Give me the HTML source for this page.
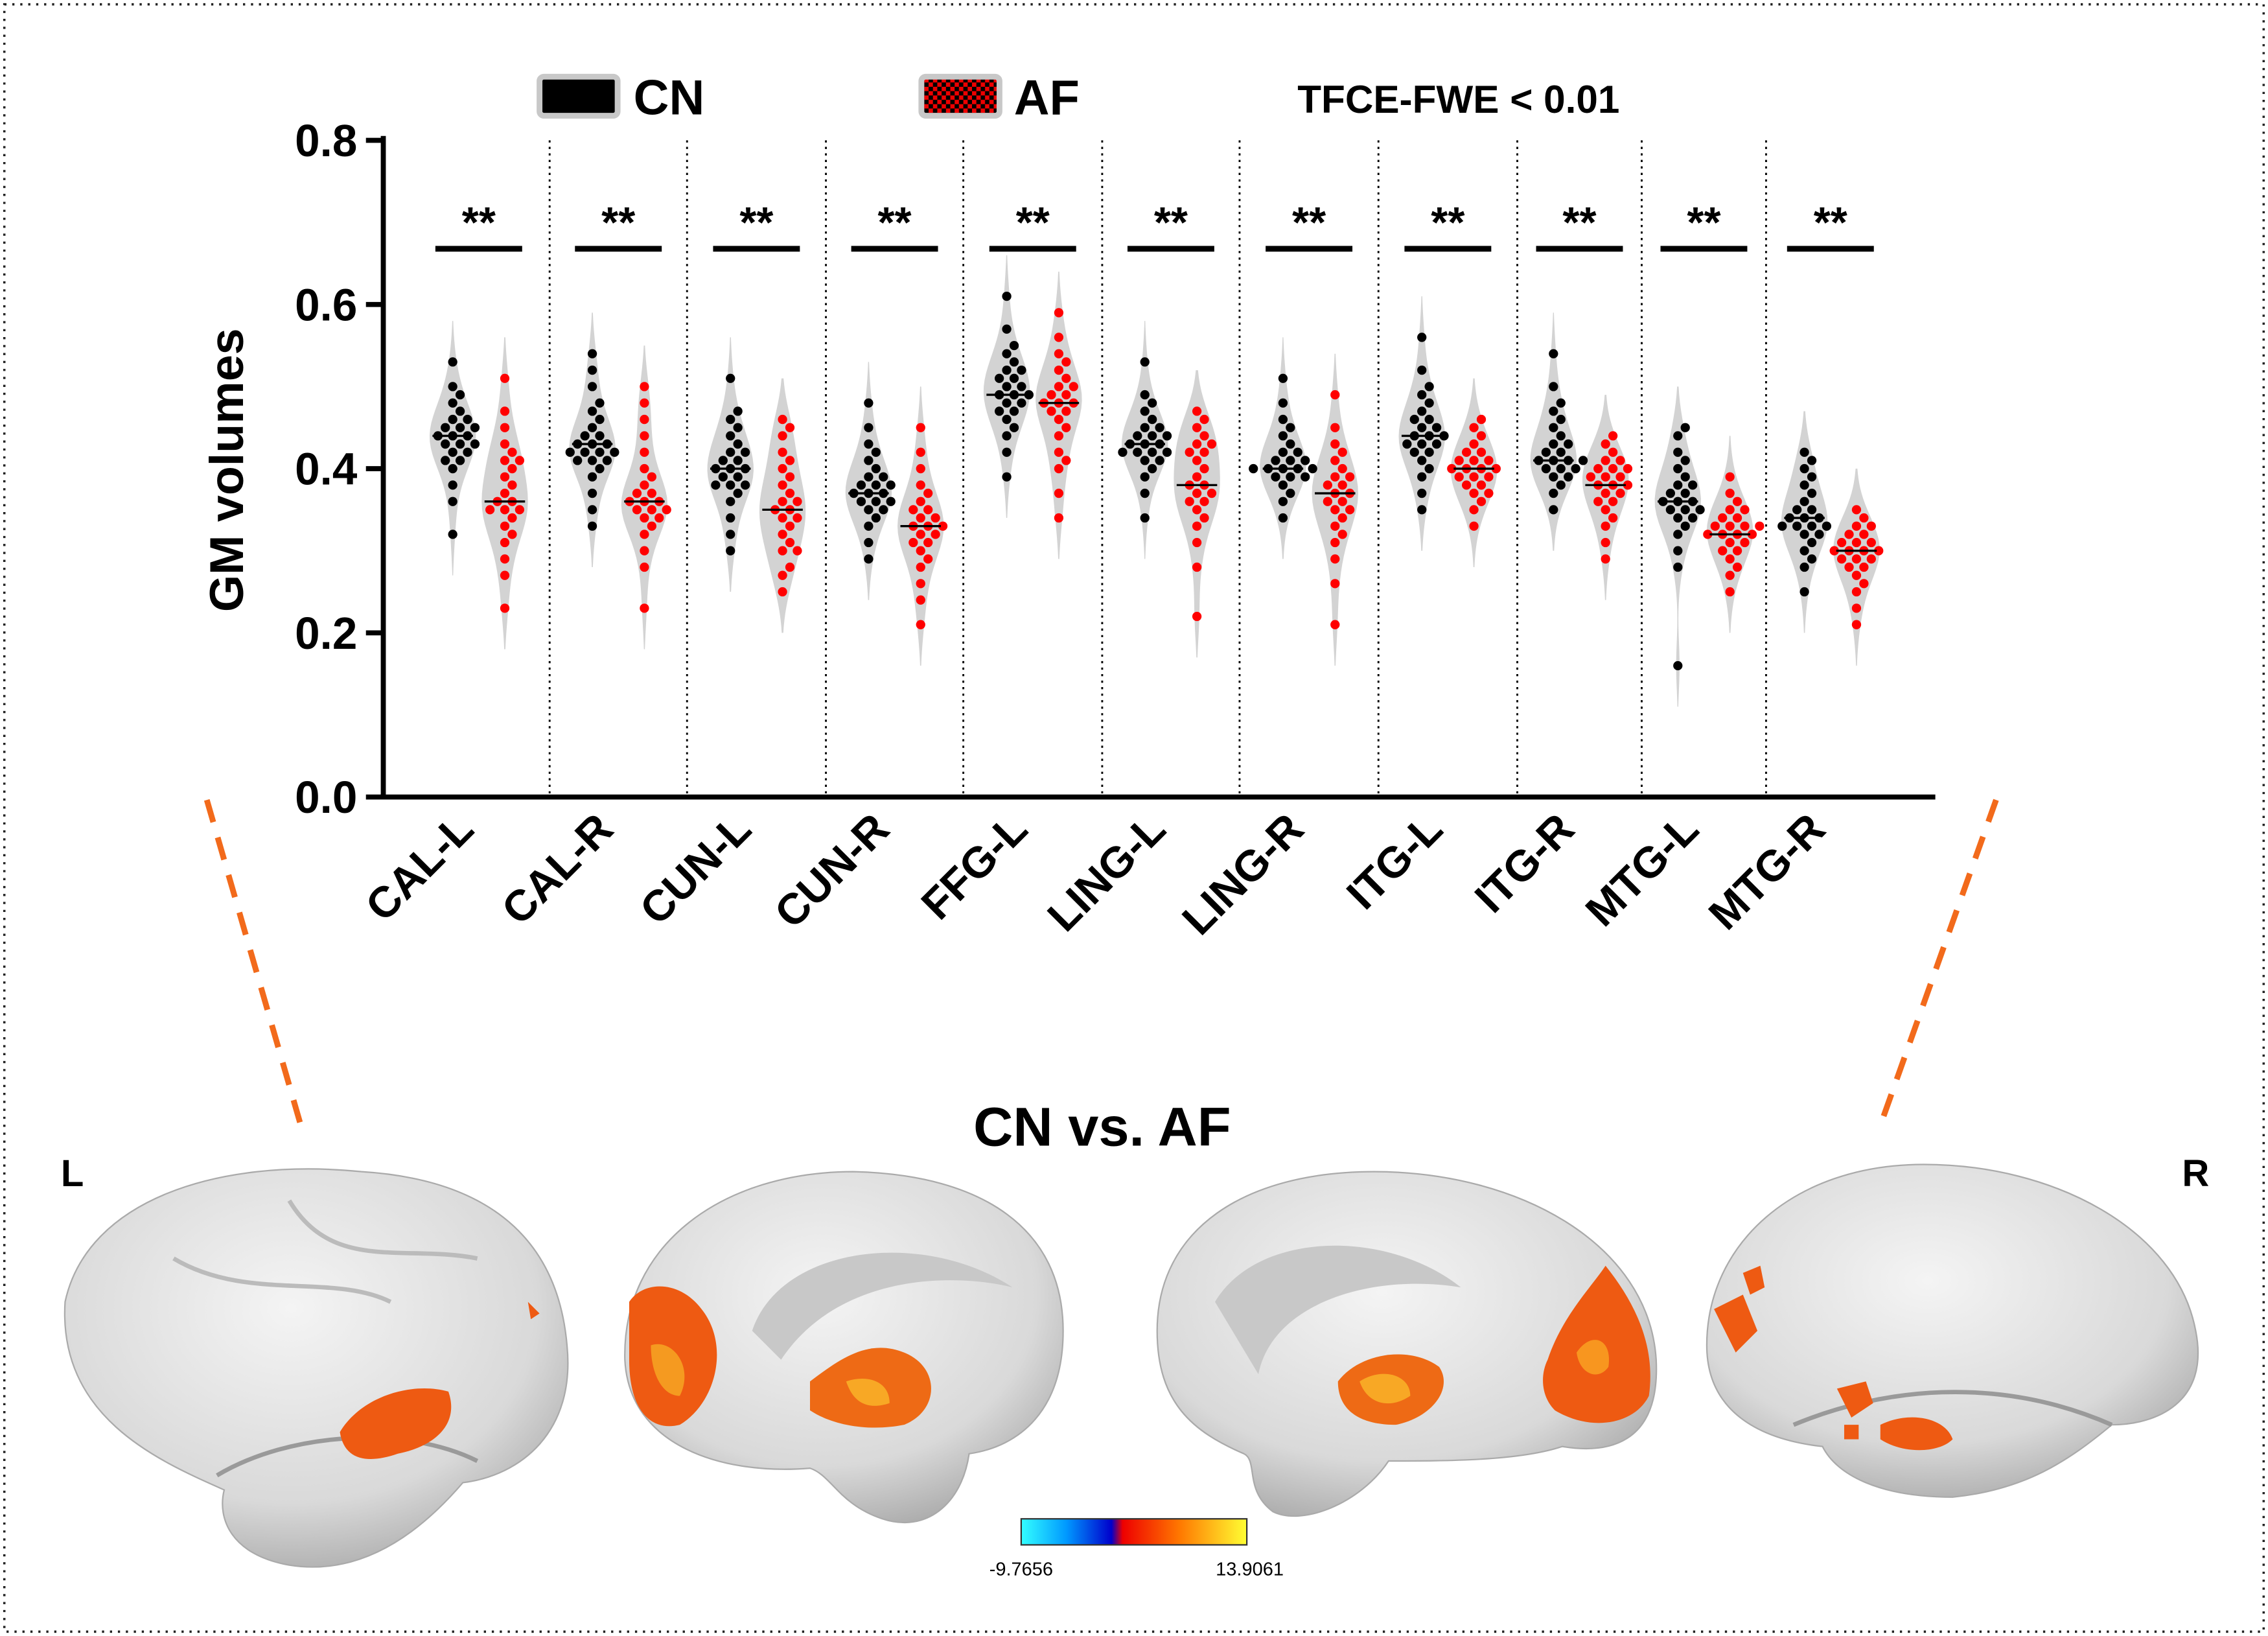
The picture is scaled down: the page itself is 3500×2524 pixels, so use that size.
<!DOCTYPE html>
<html><head><meta charset="utf-8"><style>
html,body{margin:0;padding:0;background:#fff}
svg{display:block}
text{font-family:"Liberation Sans",Arial,sans-serif}
</style></head><body>
<svg id="chart" width="3500" height="2524" viewBox="0 0 1568 1131" preserveAspectRatio="none" xmlns="http://www.w3.org/2000/svg">
<defs>
<pattern id="chk" width="6" height="6" patternUnits="userSpaceOnUse"><rect width="6" height="6" fill="#e00"/><rect width="3" height="3" fill="#000"/><rect x="3" y="3" width="3" height="3" fill="#000"/></pattern>
<radialGradient id="brainG" cx="45%" cy="35%" r="70%"><stop offset="0" stop-color="#f4f4f4"/><stop offset="0.7" stop-color="#d9d9d9"/><stop offset="1" stop-color="#a9a9a9"/></radialGradient>
<linearGradient id="cbar" x1="0" x2="1"><stop offset="0" stop-color="#3ff"/><stop offset="0.2" stop-color="#09f"/><stop offset="0.4" stop-color="#00c"/><stop offset="0.45" stop-color="#e00"/><stop offset="0.7" stop-color="#f70"/><stop offset="1" stop-color="#ff3"/></linearGradient>
</defs>
<rect x="3" y="3" width="1562" height="1125" fill="none" stroke="#222" stroke-width="1.6" stroke-dasharray="1.5,4"/>
<g id="plot"></g>
<g>
<rect x="373" y="53" width="54" height="27" rx="3" fill="#000" stroke="#c8c8c8" stroke-width="4"/>
<text x="438" y="79" font-size="34" font-weight="bold">CN</text>
<rect x="637" y="53" width="54" height="27" rx="3" fill="url(#chk)" stroke="#c8c8c8" stroke-width="4"/>
<text x="701" y="79" font-size="34" font-weight="bold">AF</text>
<text x="897" y="78" font-size="27" font-weight="bold">TFCE-FWE &lt; 0.01</text>
</g>
<text transform="translate(168,325) rotate(-90)" text-anchor="middle" font-size="33" font-weight="bold">GM volumes</text>
<line x1="143" y1="553" x2="210" y2="785" stroke="#f26a1b" stroke-width="4" stroke-dasharray="16,11"/>
<line x1="1380" y1="553" x2="1300" y2="778" stroke="#f26a1b" stroke-width="4" stroke-dasharray="16,11"/>
<text x="762" y="792" text-anchor="middle" font-size="38" font-weight="bold">CN vs. AF</text>
<text x="50" y="820" text-anchor="middle" font-size="26" font-weight="bold">L</text>
<text x="1518" y="820" text-anchor="middle" font-size="26" font-weight="bold">R</text>
<g>
<path d="M45,900 C60,830 150,800 250,810 C330,815 385,850 392,930 C398,990 360,1020 320,1025 C290,1060 250,1090 200,1082 C160,1075 150,1050 155,1030 C110,1010 40,980 45,900 Z" fill="url(#brainG)" stroke="#aaa"/>
<path d="M150,1020 C200,990 280,985 330,1010" fill="none" stroke="#9a9a9a" stroke-width="3"/>
<path d="M120,870 C170,900 230,880 270,900 M200,830 C230,880 280,860 330,870" fill="none" stroke="#bbb" stroke-width="3"/>
<path d="M235,990 C250,965 285,955 310,962 C318,985 300,1000 275,1005 C255,1012 238,1010 235,990 Z" fill="#ee5a12"/>
<path d="M365,900 l8,8 l-6,4 Z" fill="#ee5a12"/>
</g>
<g>
<path d="M432,940 C430,860 500,810 590,810 C680,812 735,850 735,920 C735,975 705,1000 670,1005 C665,1040 640,1060 610,1050 C580,1040 575,1020 560,1015 C500,1020 435,1000 432,940 Z" fill="url(#brainG)" stroke="#aaa"/>
<path d="M520,920 C540,860 640,850 700,890 C660,880 580,880 540,940 Z" fill="#c8c8c8"/>
<path d="M435,900 C445,885 470,885 485,905 C505,930 495,970 470,985 C450,990 435,975 435,940 Z" fill="#ee5a12"/>
<path d="M450,930 C465,925 480,945 470,965 C458,965 450,950 450,930Z" fill="#f59a20"/>
<path d="M560,955 C580,940 600,925 625,935 C650,945 650,975 625,985 C600,990 575,985 560,975 Z" fill="#ee6a15"/>
<path d="M585,955 C600,950 615,955 615,970 C600,975 590,970 585,955Z" fill="#f8a825"/>
</g>
<g>
<path d="M800,920 C800,850 860,810 950,810 C1050,810 1140,860 1145,940 C1148,1000 1110,1005 1080,1000 C1050,1010 1000,1010 960,1010 C940,1040 900,1055 880,1045 C860,1030 870,1010 860,1005 C825,990 800,970 800,920 Z" fill="url(#brainG)" stroke="#aaa"/>
<path d="M840,900 C870,850 960,850 1010,890 C950,880 880,900 870,950 Z" fill="#c8c8c8"/>
<path d="M1070,940 C1080,910 1100,890 1110,875 C1130,900 1145,930 1140,965 C1130,985 1100,990 1075,975 C1065,965 1065,950 1070,940 Z" fill="#ee5a12"/>
<path d="M1090,935 C1100,920 1115,925 1112,945 C1105,955 1092,950 1090,935Z" fill="#f8961f"/>
<path d="M925,955 C940,935 975,930 995,945 C1005,960 990,980 965,985 C940,985 925,975 925,955 Z" fill="#ee6a15"/>
<path d="M940,955 C955,945 975,950 975,965 C960,975 945,970 940,955Z" fill="#f8a825"/>
</g>
<g>
<path d="M1180,930 C1180,860 1240,805 1330,805 C1420,805 1505,850 1518,920 C1528,970 1490,985 1460,985 C1430,1010 1400,1030 1350,1035 C1300,1035 1270,1020 1260,1000 C1215,995 1180,975 1180,930 Z" fill="url(#brainG)" stroke="#aaa"/>
<path d="M1240,985 C1300,960 1380,950 1460,985" fill="none" stroke="#9a9a9a" stroke-width="3"/>
<path d="M1185,905 l20,-10 l10,25 l-15,15 Z M1205,880 l12,-5 l3,15 l-10,5 Z" fill="#ee5a12"/>
<path d="M1270,960 l20,-5 l5,15 l-15,10 Z M1300,985 C1320,975 1345,980 1350,995 C1340,1005 1315,1005 1300,995 Z M1275,985 l10,0 l0,10 l-10,0 Z" fill="#ee5a12"/>
</g>
<g>
<rect x="706" y="1050" width="156" height="18" fill="url(#cbar)" stroke="#333" stroke-width="1"/>
<text x="706" y="1089" text-anchor="middle" font-size="13">-9.7656</text>
<text x="864" y="1089" text-anchor="middle" font-size="13">13.9061</text>
</g>
</svg>
<script>
const categories=["CAL-L","CAL-R","CUN-L","CUN-R","FFG-L","LING-L","LING-R","ITG-L","ITG-R","MTG-L","MTG-R"];
const cnValues=[
[0.32,0.36,0.38,0.40,0.41,0.42,0.42,0.43,0.43,0.44,0.44,0.44,0.45,0.45,0.46,0.46,0.47,0.48,0.49,0.50,0.53,0.41,0.43,0.45],
[0.33,0.35,0.37,0.39,0.40,0.41,0.41,0.42,0.42,0.42,0.43,0.43,0.43,0.44,0.44,0.45,0.46,0.47,0.48,0.50,0.52,0.54,0.42,0.41],
[0.30,0.32,0.34,0.36,0.37,0.38,0.38,0.39,0.39,0.40,0.40,0.41,0.41,0.42,0.42,0.43,0.44,0.45,0.46,0.47,0.51,0.40,0.38],
[0.29,0.31,0.33,0.34,0.35,0.35,0.36,0.36,0.37,0.37,0.37,0.38,0.38,0.39,0.39,0.40,0.41,0.42,0.43,0.45,0.48,0.36,0.38],
[0.39,0.42,0.44,0.45,0.46,0.47,0.47,0.48,0.48,0.49,0.49,0.50,0.50,0.51,0.51,0.52,0.53,0.54,0.55,0.57,0.61,0.49,0.52],
[0.34,0.37,0.39,0.40,0.41,0.41,0.42,0.42,0.42,0.43,0.43,0.43,0.44,0.44,0.45,0.45,0.46,0.47,0.48,0.49,0.53,0.42,0.44],
[0.34,0.36,0.37,0.38,0.39,0.39,0.40,0.40,0.40,0.40,0.41,0.41,0.41,0.42,0.42,0.43,0.44,0.45,0.46,0.48,0.51,0.40,0.39],
[0.35,0.37,0.39,0.40,0.41,0.42,0.42,0.43,0.43,0.44,0.44,0.45,0.45,0.46,0.46,0.47,0.48,0.49,0.50,0.52,0.56,0.44,0.43],
[0.35,0.37,0.38,0.39,0.39,0.40,0.40,0.41,0.41,0.41,0.42,0.42,0.43,0.43,0.44,0.45,0.46,0.47,0.48,0.50,0.54,0.40,0.41],
[0.16,0.28,0.30,0.32,0.33,0.34,0.34,0.35,0.35,0.36,0.36,0.37,0.37,0.38,0.38,0.39,0.40,0.41,0.42,0.44,0.45,0.36,0.35],
[0.25,0.28,0.29,0.30,0.31,0.32,0.32,0.33,0.33,0.33,0.34,0.34,0.35,0.35,0.36,0.37,0.38,0.39,0.40,0.41,0.42,0.33,0.34]];
const afValues=[
[0.23,0.27,0.29,0.31,0.32,0.33,0.34,0.35,0.35,0.36,0.36,0.37,0.38,0.39,0.40,0.41,0.42,0.43,0.45,0.47,0.51,0.35,0.41],
[0.23,0.28,0.30,0.32,0.33,0.34,0.34,0.35,0.35,0.36,0.36,0.36,0.37,0.38,0.39,0.40,0.42,0.44,0.46,0.48,0.50,0.35,0.37],
[0.25,0.27,0.28,0.30,0.31,0.32,0.33,0.34,0.35,0.35,0.36,0.36,0.37,0.38,0.39,0.40,0.41,0.42,0.44,0.45,0.46,0.34,0.30],
[0.21,0.24,0.26,0.28,0.29,0.30,0.31,0.32,0.32,0.33,0.33,0.34,0.34,0.35,0.35,0.36,0.37,0.38,0.40,0.42,0.45,0.31,0.33],
[0.34,0.37,0.40,0.42,0.44,0.45,0.46,0.47,0.47,0.48,0.48,0.49,0.49,0.50,0.50,0.51,0.52,0.53,0.54,0.56,0.59,0.41,0.48],
[0.22,0.28,0.31,0.33,0.34,0.35,0.36,0.36,0.37,0.38,0.38,0.39,0.40,0.41,0.42,0.42,0.43,0.44,0.45,0.46,0.47,0.37,0.43],
[0.21,0.26,0.29,0.31,0.32,0.33,0.34,0.35,0.35,0.36,0.37,0.37,0.38,0.38,0.39,0.40,0.41,0.42,0.43,0.45,0.49,0.36,0.39],
[0.33,0.35,0.36,0.37,0.37,0.38,0.38,0.39,0.39,0.40,0.40,0.40,0.41,0.41,0.41,0.42,0.42,0.43,0.44,0.45,0.46,0.39,0.40],
[0.29,0.31,0.33,0.34,0.35,0.36,0.36,0.37,0.37,0.38,0.38,0.39,0.39,0.40,0.40,0.40,0.41,0.41,0.42,0.43,0.44,0.38,0.39],
[0.25,0.27,0.28,0.29,0.30,0.30,0.31,0.31,0.32,0.32,0.32,0.33,0.33,0.33,0.34,0.34,0.35,0.35,0.36,0.37,0.39,0.32,0.33],
[0.21,0.23,0.25,0.26,0.27,0.28,0.28,0.29,0.29,0.30,0.30,0.30,0.31,0.31,0.31,0.32,0.32,0.33,0.33,0.34,0.35,0.29,0.30]];
const yTicks=[0.0,0.2,0.4,0.6,0.8];
const sigLabels=["**","**","**","**","**","**","**","**","**","**","**"];

const NS="http://www.w3.org/2000/svg";
const g=document.getElementById('plot');
const X0=265,X1=1338,Y0=551,Y1=97;
const layoutSeparators=[265,380,475,571,666,762,857,953,1049,1135,1221,1310];
function yScale(v){return Y0-(v/0.8)*(Y0-Y1);}
function groupCenter(i){return i===0?331:(layoutSeparators[i]+layoutSeparators[i+1])/2;}
function mk(tag,attrs,parent){const e=document.createElementNS(NS,tag);for(const k in attrs)e.setAttribute(k,attrs[k]);(parent||g).appendChild(e);return e;}

let ax=mk('line',{x1:X0,y1:Y1-3,x2:X0,y2:Y0,stroke:'#000','stroke-width':3.5});


let bx=mk('line',{x1:X0-2,y1:Y0,x2:X1,y2:Y0,stroke:'#000','stroke-width':3.5});


yTicks.forEach(t=>{
  const y=yScale(t);
  const tk=mk('line',{x1:X0-12,y1:y,x2:X0,y2:y,stroke:'#000','stroke-width':3.5});
  
  
  const tl=mk('text',{x:X0-18,y:y+11,'text-anchor':'end','font-size':31,'font-weight':'bold'});
  tl.textContent=t.toFixed(1);
  
  
});

function violin(vals,cx,half){
  const mn=Math.min(...vals)-0.05,mx=Math.max(...vals)+0.05,bw=0.03;
  let maxd=0;const ds=[];
  for(let k=0;k<=40;k++){const v=mn+(mx-mn)*k/40;let d=0;vals.forEach(u=>{d+=Math.exp(-0.5*((v-u)/bw)**2);});ds.push([v,d]);maxd=Math.max(maxd,d);}
  let p='';
  ds.forEach(([v,d],k)=>{p+=(k?'L':'M')+(cx+half*d/maxd)+','+yScale(v);});
  for(let k=ds.length-1;k>=0;k--){const [v,d]=ds[k];p+='L'+(cx-half*d/maxd)+','+yScale(v);}
  return p+'Z';
}
function swarm(vals,cx,color,name){
  const sorted=vals.slice().sort((a,b)=>a-b);const placed=[];const r=3.2;
  sorted.forEach(v=>{
    const y=yScale(v);let off=0;
    for(let k=0;k<30;k++){off=(k%2?1:-1)*Math.ceil(k/2)*r*1.6;
      if(placed.every(p=>Math.hypot(p[0]-(cx+off),p[1]-y)>=r*1.8))break;}
    placed.push([cx+off,y]);
    const c=mk('circle',{cx:cx+off,cy:y,r:r,fill:color});
    
    
  });
  const sm=sorted[Math.floor(sorted.length/2)];
  const ml=mk('line',{x1:cx-14,x2:cx+14,y1:yScale(sm),y2:yScale(sm),stroke:'#000','stroke-width':1.5});
  
  
}
categories.forEach((c,i)=>{
  const cc=groupCenter(i),cnx=cc-18,afx=cc+18;
  if(i>0){const sx=layoutSeparators[i];
    const s=mk('line',{x1:sx,x2:sx,y1:Y1,y2:Y0,stroke:'#000','stroke-width':1.3,'stroke-dasharray':'1.5,3'});
    
    }
  const v1=mk('path',{d:violin(cnValues[i],cnx,16),fill:'#d3d3d3'});
  
  
  const v2=mk('path',{d:violin(afValues[i],afx,16),fill:'#d3d3d3'});
  
  
  swarm(cnValues[i],cnx,'#000','point-cn');
  swarm(afValues[i],afx,'#f00','point-af');
  const b=mk('line',{x1:cc-30,x2:cc+30,y1:172,y2:172,stroke:'#000','stroke-width':4});
  
  
  const st=mk('text',{x:cc,y:164,'text-anchor':'middle','font-size':30,'font-weight':'bold'});
  st.textContent=sigLabels[i];
  
  
  const xl=mk('text',{transform:'translate('+(cc-2)+',575) rotate(-45)','text-anchor':'end','font-size':30,'font-weight':'bold'});
  xl.textContent=c;
  
  
});
</script>
</body></html>
